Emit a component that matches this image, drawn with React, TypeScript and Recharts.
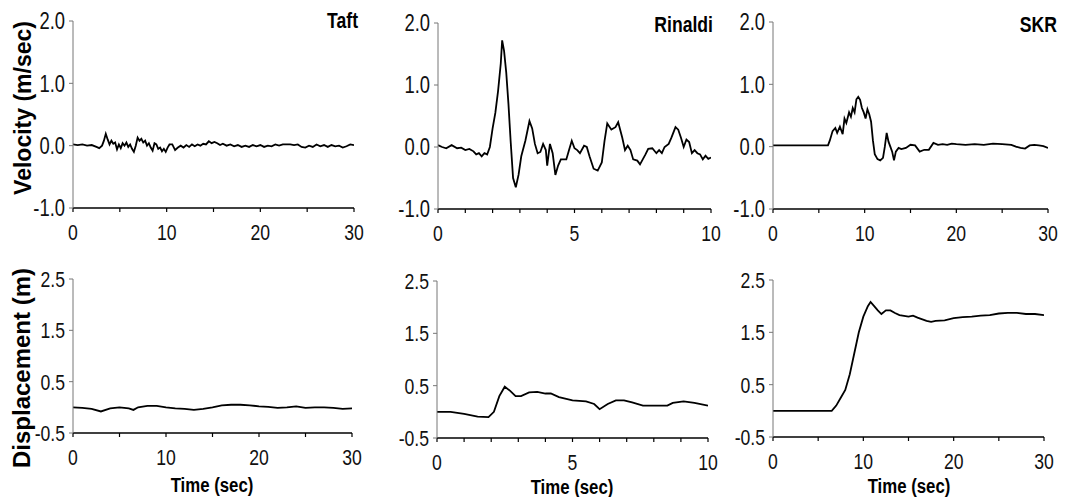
import React from "react";
import { LineChart, Line, XAxis, YAxis } from "recharts";

const FONT = "'Liberation Sans', Arial, sans-serif";
const SQUEEZE = 0.8;

// [time (sec), value]
const taftVelocity: [number, number][] = [
  [0, 0.02], [0.5, 0.01], [1, 0.02], [1.5, 0.0], [2, 0.01], [2.5, -0.02], [2.8, -0.04], [3.1, 0.0], [3.3, 0.08], [3.5, 0.19],
  [3.7, 0.1], [3.9, 0.02], [4.1, 0.08], [4.3, 0.03], [4.5, 0.05], [4.7, -0.06], [4.9, 0.02], [5.1, -0.04], [5.3, 0.04], [5.5, 0.0],
  [5.7, 0.05], [5.9, -0.02], [6.1, 0.02], [6.3, -0.05], [6.5, -0.1], [6.7, 0.0], [6.9, 0.13], [7.1, 0.08], [7.3, 0.11], [7.5, 0.05],
  [7.7, 0.08], [7.9, 0.0], [8.1, 0.04], [8.3, -0.03], [8.5, -0.08], [8.7, 0.04], [8.9, 0.02], [9.1, -0.05], [9.3, -0.03], [9.5, -0.09],
  [9.7, -0.05], [9.9, -0.1], [10.1, -0.03], [10.3, 0.02], [10.6, 0.02], [10.9, -0.07], [11.2, -0.03], [11.5, 0.0], [11.8, -0.03], [12.1, 0.01],
  [12.4, -0.02], [12.7, 0.02], [13, -0.01], [13.3, 0.02], [13.6, 0.0], [13.9, 0.03], [14.2, 0.02], [14.5, 0.07], [14.8, 0.04], [15.1, 0.06],
  [15.4, 0.04], [15.7, 0.01], [16, 0.03], [16.4, 0.0], [16.8, 0.02], [17.2, -0.01], [17.6, 0.01], [18, -0.02], [18.4, 0.0], [18.8, -0.02],
  [19.2, 0.01], [19.6, -0.01], [20, 0.01], [20.4, -0.02], [20.8, 0.0], [21.2, -0.01], [21.6, 0.02], [22, 0.0], [22.4, 0.02], [22.8, 0.02],
  [23.2, 0.02], [23.6, 0.01], [24, 0.02], [24.4, -0.02], [24.8, -0.03], [25.2, 0.0], [25.6, -0.02], [26, 0.02], [26.4, -0.01], [26.8, 0.01],
  [27.2, -0.02], [27.6, 0.01], [28, -0.01], [28.4, 0.0], [28.8, -0.03], [29.2, -0.01], [29.6, 0.02], [30, 0.01],
];

const rinaldiVelocity: [number, number][] = [
  [0, 0.03], [0.15, 0.0], [0.3, -0.02], [0.5, 0.03], [0.7, -0.02], [0.85, -0.01], [1.0, -0.05], [1.15, -0.03], [1.3, -0.07], [1.4, -0.12],
  [1.5, -0.1], [1.6, -0.15], [1.7, -0.1], [1.8, -0.12], [1.9, 0.0], [2.0, 0.3], [2.1, 0.55], [2.2, 0.9], [2.3, 1.35], [2.35, 1.72],
  [2.42, 1.55], [2.5, 1.2], [2.58, 0.7], [2.66, 0.1], [2.75, -0.5], [2.85, -0.65], [2.95, -0.45], [3.05, -0.15], [3.2, 0.1], [3.35, 0.42],
  [3.45, 0.3], [3.55, 0.05], [3.65, -0.1], [3.75, -0.08], [3.85, 0.05], [3.95, -0.05], [4.0, -0.3], [4.1, 0.05], [4.2, -0.1], [4.3, -0.45],
  [4.4, -0.3], [4.5, -0.2], [4.7, -0.2], [4.8, -0.05], [4.9, 0.1], [5.0, -0.02], [5.1, -0.05], [5.2, -0.1], [5.35, 0.02], [5.45, 0.0],
  [5.55, -0.15], [5.7, -0.35], [5.85, -0.38], [6.0, -0.25], [6.1, 0.1], [6.2, 0.38], [6.35, 0.28], [6.5, 0.32], [6.6, 0.4], [6.75, 0.15],
  [6.85, -0.05], [6.95, 0.02], [7.05, -0.05], [7.15, -0.2], [7.3, -0.22], [7.4, -0.28], [7.5, -0.2], [7.6, -0.12], [7.7, -0.03], [7.85, -0.02],
  [8.0, -0.1], [8.1, -0.05], [8.2, -0.1], [8.3, 0.0], [8.45, 0.05], [8.55, 0.15], [8.7, 0.32], [8.8, 0.28], [8.9, 0.15], [9.0, 0.0],
  [9.1, 0.12], [9.2, 0.08], [9.3, -0.1], [9.4, -0.05], [9.5, -0.1], [9.6, -0.12], [9.7, -0.2], [9.8, -0.14], [9.9, -0.19], [10, -0.17],
];

const skrVelocity: [number, number][] = [
  [0, 0.02], [2, 0.02], [4, 0.02], [5.8, 0.02], [6.0, 0.02], [6.2, 0.1], [6.5, 0.25], [6.8, 0.3], [7.0, 0.22], [7.3, 0.32],
  [7.6, 0.2], [7.8, 0.45], [8.0, 0.38], [8.3, 0.55], [8.5, 0.48], [8.7, 0.62], [8.9, 0.55], [9.1, 0.76], [9.3, 0.8], [9.5, 0.75],
  [9.7, 0.62], [9.9, 0.55], [10.1, 0.45], [10.3, 0.6], [10.5, 0.52], [10.7, 0.4], [10.9, 0.1], [11.1, -0.12], [11.4, -0.2], [11.7, -0.22],
  [12.0, -0.18], [12.2, 0.0], [12.4, 0.22], [12.6, 0.08], [12.8, 0.0], [13.0, -0.08], [13.2, -0.22], [13.4, -0.08], [13.7, -0.02], [14.0, -0.04],
  [14.5, -0.02], [15.0, 0.03], [15.5, 0.02], [16.0, -0.08], [16.5, -0.05], [17.0, -0.05], [17.5, 0.06], [18.0, 0.03], [18.5, 0.04], [19.0, 0.03],
  [19.5, 0.05], [20.0, 0.04], [21.0, 0.03], [22.0, 0.04], [23.0, 0.03], [24.0, 0.05], [25.0, 0.04], [26.0, 0.03], [26.5, 0.0], [27.0, -0.02],
  [27.5, -0.03], [28.0, 0.02], [28.5, 0.03], [29.0, 0.02], [29.5, 0.01], [30, -0.02],
];

const taftDisplacement: [number, number][] = [
  [0, 0.0], [1, -0.01], [2, -0.03], [3, -0.08], [4, -0.02], [5, 0.0], [6, -0.02], [6.5, -0.05], [7, 0.0], [8, 0.03],
  [9, 0.03], [10, 0.0], [11, -0.02], [12, -0.03], [13, -0.05], [14, -0.03], [15, 0.0], [16, 0.04], [17, 0.05], [18, 0.05],
  [19, 0.04], [20, 0.02], [21, 0.01], [22, -0.01], [23, 0.0], [24, 0.02], [25, -0.01], [26, 0.0], [27, 0.0], [28, -0.01],
  [29, -0.03], [30, -0.02],
];

const rinaldiDisplacement: [number, number][] = [
  [0, 0.0], [0.5, 0.0], [1.0, -0.04], [1.5, -0.09], [1.9, -0.1], [2.1, 0.0], [2.3, 0.3], [2.5, 0.48], [2.7, 0.4], [2.9, 0.3],
  [3.1, 0.3], [3.4, 0.37], [3.7, 0.38], [4.0, 0.35], [4.2, 0.35], [4.5, 0.28], [5.0, 0.22], [5.5, 0.2], [5.8, 0.15], [6.0, 0.05],
  [6.3, 0.15], [6.6, 0.22], [6.9, 0.22], [7.2, 0.18], [7.6, 0.12], [8.0, 0.12], [8.5, 0.12], [8.7, 0.17], [9.1, 0.2], [9.5, 0.17],
  [10, 0.12],
];

const skrDisplacement: [number, number][] = [
  [0, 0.0], [3, 0.0], [6.5, 0.0], [7, 0.1], [7.5, 0.25], [8, 0.4], [8.5, 0.7], [9, 1.1], [9.5, 1.5], [10, 1.8],
  [10.5, 2.0], [10.8, 2.08], [11.2, 2.0], [11.6, 1.92], [12, 1.85], [12.5, 1.92], [13, 1.92], [13.5, 1.87], [14, 1.83], [15, 1.8],
  [15.5, 1.82], [16, 1.78], [17, 1.72], [17.5, 1.7], [18, 1.72], [19, 1.73], [20, 1.77], [21, 1.79], [22, 1.8], [23, 1.82],
  [24, 1.83], [25, 1.86], [26, 1.87], [27, 1.87], [28, 1.85], [29, 1.85], [30, 1.83],
];

const ticks30 = [0, 5, 10, 15, 20, 25, 30];
const labels30 = [0, 10, 20, 30];
const ticks10 = [0, 1, 2, 3, 4, 5, 6, 7, 8, 9, 10];
const labels10 = [0, 5, 10];
const velocityTicks = [-1, 0, 1, 2];
const displacementTicks = [-0.5, 0.5, 1.5, 2.5];

type Box = { l: number; t: number; r: number; b: number };

function NarrowText(props: { x: number; y: number; anchor: string; size: number; bold?: boolean; dy?: string; children: React.ReactNode }) {
  const { x, y, anchor, size, bold, dy, children } = props;
  return (
    <text
      transform={`translate(${x},${y}) scale(${SQUEEZE},1)`}
      textAnchor={anchor}
      fontSize={size}
      fontFamily={FONT}
      fontWeight={bold ? "bold" : "normal"}
      fill={bold ? "#000" : "#111"}
      dy={dy}
    >
      {children}
    </text>
  );
}

function makeXTick(labels: number[]) {
  return (p: any) => {
    const v = p.payload.value;
    if (!labels.includes(v)) return <g />;
    return <NarrowText x={p.x} y={p.y} anchor="middle" size={22} dy="0.71em">{String(v)}</NarrowText>;
  };
}

function makeYTick(size: number) {
  return (p: any) => (
    <NarrowText x={p.x} y={p.y} anchor="end" size={size} dy="0.36em">{Number(p.payload.value).toFixed(1)}</NarrowText>
  );
}

function Panel(props: {
  box: Box;
  series: [number, number][];
  xMax: number;
  xTicks: number[];
  xLabels: number[];
  yDomain: [number, number];
  yTicks: number[];
  yFont: number;
}) {
  const { box, series, xMax, xTicks, xLabels, yDomain, yTicks, yFont } = props;
  const ml = 60, mt = 14, mr = 14, mb = 44;
  const width = box.r - box.l + ml + mr;
  const height = box.b - box.t + mt + mb;
  const data = series.map(([t, v]) => ({ t, v }));
  return (
    <div style={{ position: "absolute", left: box.l - ml, top: box.t - mt }}>
      <LineChart width={width} height={height} data={data} margin={{ top: mt, right: mr, left: 0, bottom: 0 }}>
        <XAxis
          type="number"
          dataKey="t"
          domain={[0, xMax]}
          ticks={xTicks}
          interval={0}
          allowDataOverflow
          height={mb}
          axisLine={{ stroke: "#000", strokeWidth: 1.6 }}
          tickLine={{ stroke: "#000", strokeWidth: 1.2 }}
          tickSize={4}
          tickMargin={12}
          tick={makeXTick(xLabels)}
        />
        <YAxis
          type="number"
          domain={yDomain}
          ticks={yTicks}
          interval={0}
          allowDataOverflow
          width={ml}
          axisLine={{ stroke: "#777", strokeWidth: 1 }}
          tickLine={{ stroke: "#777", strokeWidth: 1 }}
          tickSize={4}
          tickMargin={4}
          tick={makeYTick(yFont)}
        />
        <Line dataKey="v" type="linear" stroke="#000" strokeWidth={1.8} dot={false} isAnimationActive={false} />
      </LineChart>
    </div>
  );
}

export default function App() {
  return (
    <div style={{ position: "absolute", left: 0, top: 0, width: 1066, height: 497, background: "#fff", overflow: "hidden" }}>
      <Panel box={{ l: 73, t: 21, r: 354, b: 208 }} series={taftVelocity} xMax={30} xTicks={ticks30} xLabels={labels30} yDomain={[-1, 2]} yTicks={velocityTicks} yFont={23} />
      <Panel box={{ l: 438, t: 23, r: 711, b: 209 }} series={rinaldiVelocity} xMax={10} xTicks={ticks10} xLabels={labels10} yDomain={[-1, 2]} yTicks={velocityTicks} yFont={23} />
      <Panel box={{ l: 773, t: 22, r: 1048, b: 209 }} series={skrVelocity} xMax={30} xTicks={ticks30} xLabels={labels30} yDomain={[-1, 2]} yTicks={velocityTicks} yFont={23} />
      <Panel box={{ l: 73, t: 279, r: 352, b: 433 }} series={taftDisplacement} xMax={30} xTicks={ticks30} xLabels={labels30} yDomain={[-0.5, 2.5]} yTicks={displacementTicks} yFont={22} />
      <Panel box={{ l: 437, t: 281, r: 708, b: 438 }} series={rinaldiDisplacement} xMax={10} xTicks={ticks10} xLabels={labels10} yDomain={[-0.5, 2.5]} yTicks={displacementTicks} yFont={22} />
      <Panel box={{ l: 773, t: 280, r: 1044, b: 437 }} series={skrDisplacement} xMax={30} xTicks={ticks30} xLabels={labels30} yDomain={[-0.5, 2.5]} yTicks={displacementTicks} yFont={22} />
      <svg width={1066} height={497} style={{ position: "absolute", left: 0, top: 0, pointerEvents: "none" }}>
        <NarrowText x={358} y={28} anchor="end" size={22} bold>Taft</NarrowText>
        <NarrowText x={713} y={32} anchor="end" size={22} bold>Rinaldi</NarrowText>
        <NarrowText x={1057} y={32} anchor="end" size={22} bold>SKR</NarrowText>
        <NarrowText x={212} y={492} anchor="middle" size={21} bold>Time (sec)</NarrowText>
        <NarrowText x={572} y={494} anchor="middle" size={21} bold>Time (sec)</NarrowText>
        <NarrowText x={909} y={493} anchor="middle" size={21} bold>Time (sec)</NarrowText>
        <text transform="translate(31,108) rotate(-90)" textAnchor="middle" fontSize={23} fontFamily={FONT} fontWeight="bold" fill="#000">Velocity (m/sec)</text>
        <text transform="translate(30,368) rotate(-90)" textAnchor="middle" fontSize={24} fontFamily={FONT} fontWeight="bold" fill="#000">Displacement (m)</text>
      </svg>
    </div>
  );
}
